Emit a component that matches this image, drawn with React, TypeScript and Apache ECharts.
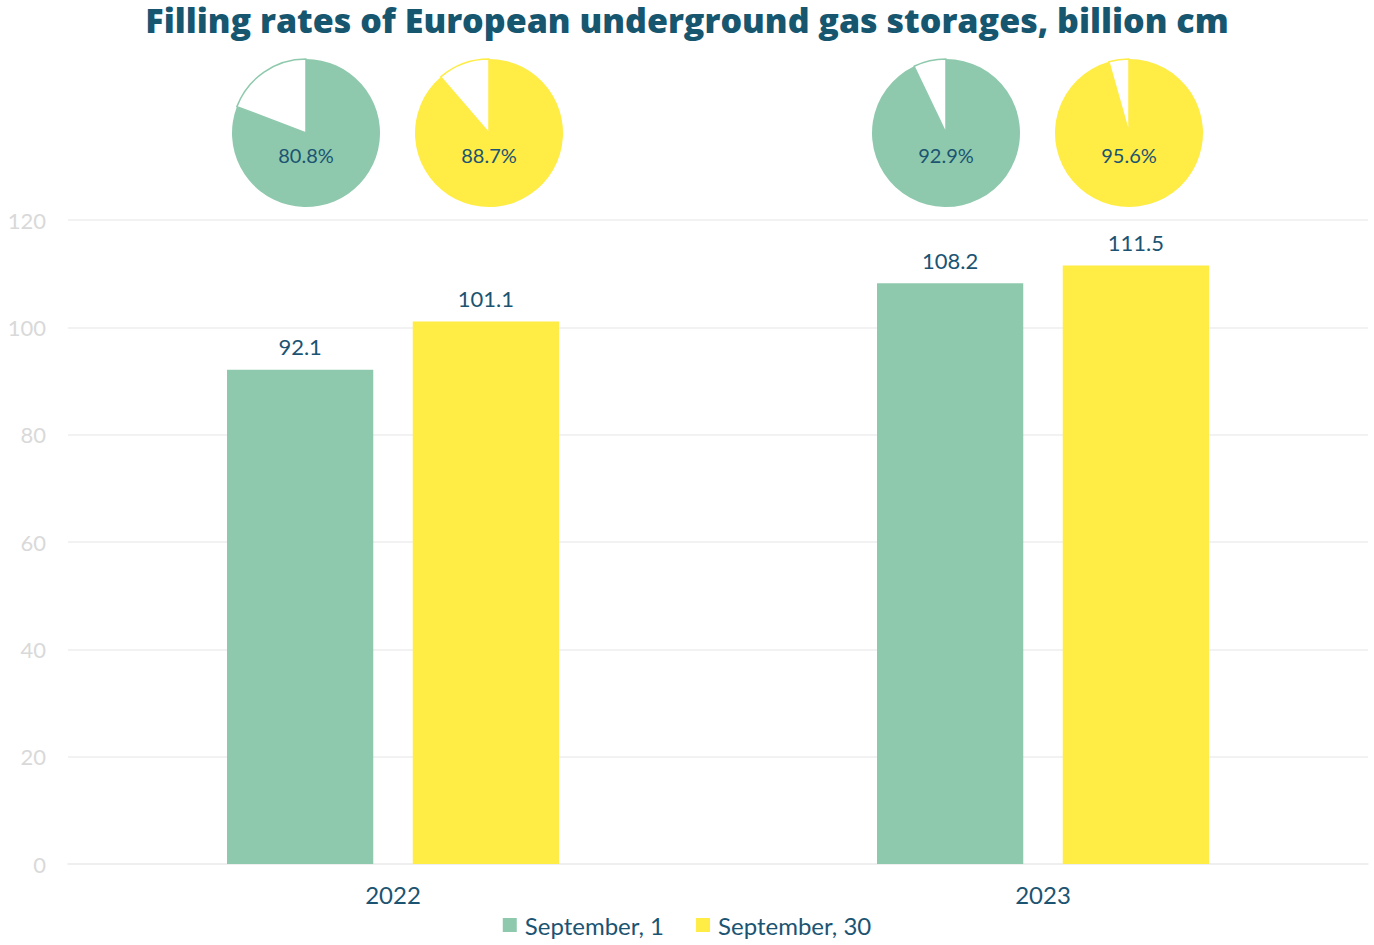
import React, { useEffect, useRef } from "react";
import * as echarts from "echarts";

const categories = ["2022", "2023"];
const seriesNames = ["September, 1", "September, 30"];
const sep1Values = [92.1, 108.2];
const sep30Values = [101.1, 111.5];
const sep1Fill = [80.8, 92.9];
const sep30Fill = [88.7, 95.6];
const yTicks = [0, 20, 40, 60, 80, 100, 120];

const GREEN = "#8FC9AD";
const YELLOW = "#FFEC45";
const TEXT = "#1B5472";

export default function App() {
  const ref = useRef<HTMLDivElement>(null);
  useEffect(() => {
    if (!ref.current) return;
    const chart = echarts.init(ref.current, undefined, { renderer: "svg" });
    const pieCenters = [
      { fill: sep1Fill[0], color: GREEN, cx: 306 },
      { fill: sep30Fill[0], color: YELLOW, cx: 489 },
      { fill: sep1Fill[1], color: GREEN, cx: 946 },
      { fill: sep30Fill[1], color: YELLOW, cx: 1129 },
    ];
    const pies = pieCenters.map((p) => ({
      type: "pie",
      center: [p.cx, 133],
      radius: 74,
      startAngle: 90,
      clockwise: true,
      silent: true,
      labelLine: { show: false },
      data: [
        {
          value: p.fill,
          name: "filled",
          itemStyle: { color: p.color },
          label: {
            show: true,
            position: "center",
            formatter: p.fill.toFixed(1) + "%",
            color: TEXT,
            fontFamily: "Lato",
            fontSize: 20,
            offset: [0, 22],
          },
        },
        {
          value: +(100 - p.fill).toFixed(1),
          name: "empty",
          itemStyle: { color: "#ffffff", borderColor: p.color, borderWidth: 1.5 },
          label: { show: false },
        },
      ],
    }));
    const barLabel = {
      show: true,
      position: "top",
      distance: 12,
      color: TEXT,
      fontFamily: "Lato",
      fontSize: 22,
    };
    chart.setOption({
      animation: false,
      graphic: [
        {
          type: "text",
          left: "center",
          top: 3,
          style: {
            text: "Filling rates of European underground gas storages, billion cm",
            fill: "#17566F",
            font: "800 34px 'Open Sans'",
          },
        },
      ],
      legend: {
        data: seriesNames,
        bottom: 3,
        left: "center",
        itemWidth: 14,
        itemHeight: 14,
        itemGap: 32,
        icon: "rect",
        textStyle: { color: TEXT, fontFamily: "Lato", fontSize: 24, padding: [0, 0, 0, 3] },
      },
      grid: { left: 68, right: 6, top: 220, bottom: 81, containLabel: false },
      xAxis: {
        type: "category",
        data: categories,
        axisLine: { lineStyle: { color: "#EEEEEE", width: 1.5 } },
        axisTick: { show: false },
        axisLabel: { color: TEXT, fontFamily: "Lato", fontSize: 24, margin: 18 },
      },
      yAxis: {
        type: "value",
        min: yTicks[0],
        max: yTicks[yTicks.length - 1],
        interval: 20,
        axisLine: { show: false },
        axisTick: { show: false },
        splitLine: { lineStyle: { color: "#EEEEEE", width: 1.5 } },
        axisLabel: { color: "#D9D9D9", fontFamily: "Lato", fontSize: 22, margin: 22 },
      },
      series: [
        {
          type: "bar",
          name: seriesNames[0],
          data: sep1Values,
          barWidth: "22.5%",
          barGap: "27%",
          itemStyle: { color: GREEN },
          label: barLabel,
        },
        {
          type: "bar",
          name: seriesNames[1],
          data: sep30Values,
          barWidth: "22.5%",
          barGap: "27%",
          itemStyle: { color: YELLOW },
          label: barLabel,
        },
        ...pies,
      ],
    });
    return () => chart.dispose();
  }, []);
  return (
    <div
      ref={ref}
      style={{ position: "fixed", left: 0, top: 0, width: 1374, height: 945, background: "#fff" }}
    />
  );
}
